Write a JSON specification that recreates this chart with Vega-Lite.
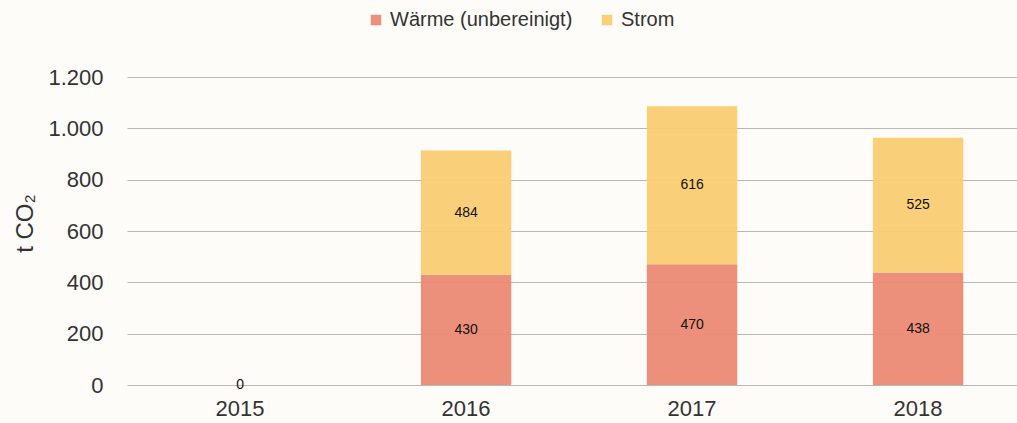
{
  "$schema": "https://vega.github.io/schema/vega-lite/v6.json",
  "width": 890,
  "height": 308,
  "autosize": "none",
  "padding": {"left": 127, "top": 77, "right": 0, "bottom": 38},
  "background": "#fdfcf8",
  "config": {
    "view": {"stroke": null},
    "font": "Liberation Sans",
    "locale": {"number": {"decimal": ",", "thousands": ".", "grouping": [3], "currency": ["", " €"]}}
  },
  "data": {
    "values": [
      {"jahr": "2015", "art": "Wärme (unbereinigt)", "ord": 1, "wert": 0},
      {"jahr": "2015", "art": "Strom", "ord": 2, "wert": 0},
      {"jahr": "2016", "art": "Wärme (unbereinigt)", "ord": 1, "wert": 430},
      {"jahr": "2016", "art": "Strom", "ord": 2, "wert": 484},
      {"jahr": "2017", "art": "Wärme (unbereinigt)", "ord": 1, "wert": 470},
      {"jahr": "2017", "art": "Strom", "ord": 2, "wert": 616},
      {"jahr": "2018", "art": "Wärme (unbereinigt)", "ord": 1, "wert": 438},
      {"jahr": "2018", "art": "Strom", "ord": 2, "wert": 525}
    ]
  },
  "encoding": {
    "x": {
      "field": "jahr", "type": "nominal",
      "scale": {"paddingInner": 0.6, "paddingOuter": 0.269, "align": 0.558},
      "axis": {"title": null, "labelAngle": 0, "labelFontSize": 22, "labelColor": "#333", "labelPadding": 13, "domain": false, "ticks": false}
    },
    "y": {
      "field": "wert", "type": "quantitative", "stack": "zero",
      "scale": {"domain": [0, 1200]},
      "axis": {
        "title": "t CO₂", "titleFontSize": 24, "titleFontWeight": "normal", "titleColor": "#333", "titlePadding": 10, "titleY": 146,
        "values": [0, 200, 400, 600, 800, 1000, 1200], "format": ",.0f",
        "labelFontSize": 22, "labelColor": "#333", "labelPadding": 24,
        "domain": false, "ticks": false, "gridColor": "#b8b8b8", "gridWidth": 1
      }
    },
    "order": {"field": "ord", "type": "quantitative"}
  },
  "layer": [
    {
      "mark": {"type": "bar", "opacity": 0.95},
      "encoding": {
        "color": {
          "field": "art", "type": "nominal",
          "scale": {"domain": ["Wärme (unbereinigt)", "Strom"], "range": ["#eb8a74", "#f9cd72"]},
          "legend": {
            "title": null, "orient": "none", "direction": "horizontal", "legendX": 239, "legendY": -67,
            "symbolType": "square", "symbolSize": 110, "symbolStrokeWidth": 0, "labelFontSize": 20, "labelColor": "#333",
            "labelLimit": 400, "columnPadding": 24, "labelOffset": 4
          }
        }
      }
    },
    {
      "transform": [{"filter": "datum.jahr != '2015' || datum.ord == 1"}],
      "mark": {"type": "text", "fontSize": 14, "color": "#111"},
      "encoding": {
        "y": {"field": "wert", "type": "quantitative", "stack": "zero", "bandPosition": 0.5},
        "text": {"field": "wert", "type": "quantitative", "format": ",.0f"}
      }
    }
  ]
}
